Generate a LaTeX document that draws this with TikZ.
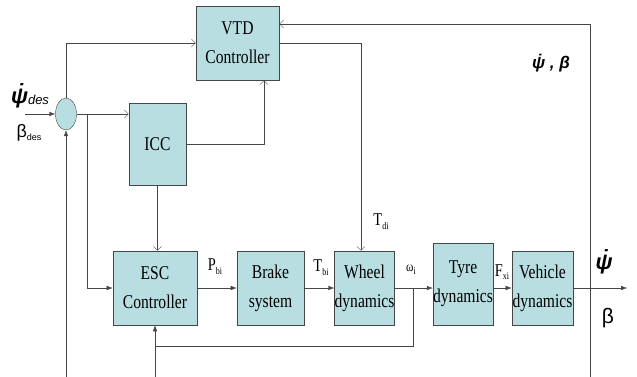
\documentclass[tikz,border=0pt]{standalone}
\usepackage{fontspec}
\setmainfont{Liberation Serif}
\newfontfamily\blockfont[FakeStretch=0.8]{Liberation Serif}
\newfontfamily\sigfont{Liberation Sans}
\usetikzlibrary{arrows.meta,shapes.geometric}
\definecolor{blockfill}{RGB}{184,222,225}
\definecolor{linegray}{RGB}{70,70,70}
\newcommand\lowsub[1]{\raisebox{-0.45ex}{\fontsize{10}{10}\selectfont #1}}
\newcommand\dotover[1]{\accent"02D9 #1}

\begin{document}
\begin{tikzpicture}[x=1pt,y=-1pt,
    block/.style={draw=linegray,fill=blockfill,semithick,align=center,inner sep=0pt,
      minimum height=74pt,font=\blockfont\fontsize{19.5}{29}\selectfont},
    sig/.style={draw=linegray,thin},
    sigopen/.style={sig,-{Straight Barb[length=4pt,width=8pt]}},
    sigtip/.style={sig,-{Latex[length=6pt,width=4.5pt]}},
    lbl/.style={inner sep=0pt,font=\blockfont\fontsize{18}{18}\selectfont}]
    \useasboundingbox (0,0) rectangle (637,377);
    % Blocks
    \node[block,minimum width=83pt] (vtd) at (237.5,43) {VTD\\Controller};
    \node[block,minimum width=57pt,minimum height=82pt] (icc) at (157.5,144) {ICC};
    \node[block,minimum width=84pt] (esc) at (155,288) {ESC\\Controller};
    \node[block,minimum width=67pt] (brake) at (270.5,288) {Brake\\system};
    \node[block,minimum width=57pt] (wheel) at (364.5,288) {Wheel\\dynamics};
    \node[block,minimum width=58pt,minimum height=82pt] (tyre) at (463,284) {Tyre\\dynamics};
    \node[block,minimum width=61pt] (vehicle) at (542.5,288) {Vehicle\\dynamics};
    \node[draw=linegray,fill=blockfill,ellipse,inner sep=0pt,
      minimum width=21pt,minimum height=32pt] (sum) at (66,114) {};
    % Free ends and branch points
    \coordinate (in) at (25,114);
    \coordinate (out) at (627,288);
    \coordinate (tapsum) at (87,114);
    \coordinate (tapwheel) at (413,288);
    \coordinate (fbwheel) at (155,346);
    \coordinate (fbleft) at (66,377);
    \coordinate (fbesc) at (155,377);
    \coordinate (fbright) at (590,377);
    % Signal lines
    \draw[sigtip] (in) -- (sum.west);
    \draw[sigopen] (sum.north) |- (vtd.west);
    \draw[sigopen] (sum.east) -- (icc.west |- sum.east);
    \draw[sigtip] (tapsum) |- (esc.west);
    \draw[sigopen] (icc.east) -| ([xshift=26.5pt]vtd.south);
    \draw[sigopen] (icc.south) -- (icc.south |- esc.north);
    \draw[sigopen] (vtd.east) -| ([xshift=-3.5pt]wheel.north);
    \draw[sigtip] (esc.east) -- (brake.west);
    \draw[sigtip] (brake.east) -- (wheel.west);
    \draw[sigtip] (wheel.east) -- (tyre.west |- wheel.east);
    \draw[sigtip] (tyre.east |- vehicle.west) -- (vehicle.west);
    \draw[sigtip] (vehicle.east) -- (out);
    \draw[sig] (tapwheel) |- (fbwheel);
    \draw[sigtip] (fbesc) -- (esc.south);
    \draw[sigtip] (fbleft) -- (sum.south);
    \draw[sigopen] (fbright) |- ([yshift=19pt]vtd.east);
    % Labels
    \node[lbl] (pbi) at (215,267) {P\lowsub{bi}};
    \node[lbl] (tbi) at (321,268) {T\lowsub{bi}};
    \node[lbl] (tdi) at (381,222) {T\lowsub{di}};
    \node[lbl,font=\blockfont\fontsize{14}{14}\selectfont] (omega) at (411,270) {ω\lowsub{i}};
    \node[lbl] (fxi) at (502,272) {F\lowsub{xi}};
    \node[lbl,font=\sigfont\bfseries\itshape\fontsize{22}{22}\selectfont] (psiout) at (604,262) {\dotover{ψ}};
    \node[lbl,font=\sigfont\fontsize{21}{21}\selectfont] (betaout) at (608,318) {β};
    \node[lbl,font=\sigfont\bfseries\itshape\fontsize{17}{17}\selectfont] (fbtext) at (551,63) {\dotover{ψ} , β};
    \node[lbl,font=\sigfont\bfseries\itshape\fontsize{22}{22}\selectfont] (psides) at (30,96)
      {\dotover{ψ}\raisebox{-0.1ex}{\mdseries\fontsize{13}{13}\selectfont des}};
    \node[lbl,font=\sigfont\fontsize{18}{18}\selectfont] (betades) at (29,133)
      {β\raisebox{-0.3ex}{\fontsize{9}{9}\selectfont des}};
\end{tikzpicture}
\end{document}
